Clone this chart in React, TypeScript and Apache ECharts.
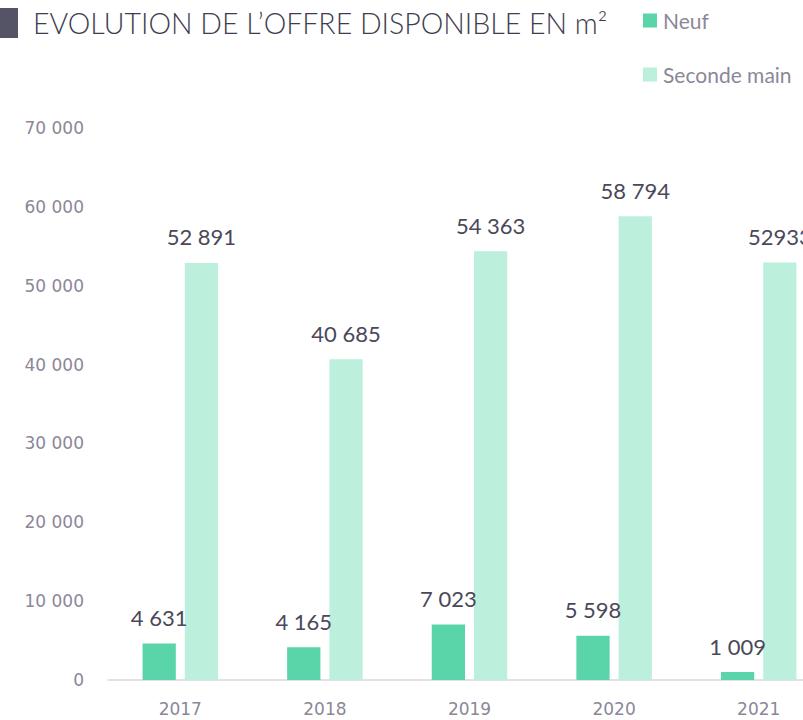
import React, { useEffect, useRef } from "react";
import * as echarts from "echarts";

const categories = ["2017", "2018", "2019", "2020", "2021"];
const neufValues = [4631, 4165, 7023, 5598, 1009];
const secondeValues = [52891, 40685, 54363, 58794, 52933];
const neufLabels = ["4 631", "4 165", "7 023", "5 598", "1 009"];
const secondeLabels = ["52 891", "40 685", "54 363", "58 794", "52933"];
const yTicks = [0, 10000, 20000, 30000, 40000, 50000, 60000, 70000];

const fmt = (v: number) => String(v).replace(/\B(?=(\d{3})+(?!\d))/g, " ");

export default function App() {
  const ref = useRef<HTMLDivElement>(null);
  useEffect(() => {
    document.body.style.margin = "0";
    document.body.style.overflow = "hidden";
    document.documentElement.style.overflow = "hidden";
    const chart = echarts.init(ref.current!, null, { renderer: "svg" });
    const labelStyle = {
      show: true,
      position: "top" as const,
      distance: 15,
      fontSize: 22,
      color: "#4a4859",
      fontFamily: "Lato, 'Noto Sans', sans-serif",
    };
    const axisFont = "'DejaVu Sans', sans-serif";
    const legendText = { fontSize: 21, color: "#8b8799", padding: [0, 0, 0, 1] };
    chart.setOption({
      animation: false,
      textStyle: { fontFamily: "Lato, 'Noto Sans', sans-serif" },
      graphic: [
        {
          type: "rect",
          left: 0,
          top: 8,
          shape: { width: 18, height: 30 },
          style: { fill: "#555366" },
        },
        {
          type: "text",
          left: 33,
          top: 8,
          style: {
            text: "EVOLUTION DE L\u2019OFFRE DISPONIBLE EN m\u00b2",
            fontSize: 28.5,
            fontWeight: 300,
            fill: "#3e3c4e",
            fontFamily: "Lato, 'Noto Sans', sans-serif",
          },
        },
      ],
      legend: [
        {
          data: ["Neuf"],
          left: 643,
          top: 10,
          padding: 0,
          icon: "rect",
          itemWidth: 14,
          itemHeight: 14,
          textStyle: legendText,
        },
        {
          data: ["Seconde main"],
          left: 643,
          top: 64,
          padding: 0,
          icon: "rect",
          itemWidth: 14,
          itemHeight: 14,
          textStyle: legendText,
        },
      ],
      grid: { left: 108, right: 0, top: 128, bottom: 40, containLabel: false },
      xAxis: {
        type: "category",
        data: categories,
        axisTick: { show: false },
        axisLine: { lineStyle: { color: "#d9d9d9", width: 1.5 } },
        axisLabel: { fontSize: 17, color: "#8b8799", margin: 20, fontFamily: axisFont },
      },
      yAxis: {
        type: "value",
        min: yTicks[0],
        max: yTicks[yTicks.length - 1],
        interval: yTicks[1] - yTicks[0],
        splitLine: { show: false },
        axisLine: { show: false },
        axisTick: { show: false },
        axisLabel: {
          fontSize: 17,
          color: "#8b8799",
          margin: 24,
          fontFamily: axisFont,
          formatter: (v: number) => fmt(v),
        },
      },
      series: [
        {
          name: "Neuf",
          type: "bar",
          data: neufValues,
          barWidth: "23%",
          barGap: "27%",
          itemStyle: { color: "#5ad5a9" },
          label: { ...labelStyle, formatter: (p: any) => neufLabels[p.dataIndex] },
        },
        {
          name: "Seconde main",
          type: "bar",
          data: secondeValues,
          barWidth: "23%",
          itemStyle: { color: "#bcefdc" },
          label: { ...labelStyle, formatter: (p: any) => secondeLabels[p.dataIndex] },
        },
      ],
    });
    return () => chart.dispose();
  }, []);
  return <div ref={ref} style={{ width: 831, height: 720 }} />;
}
